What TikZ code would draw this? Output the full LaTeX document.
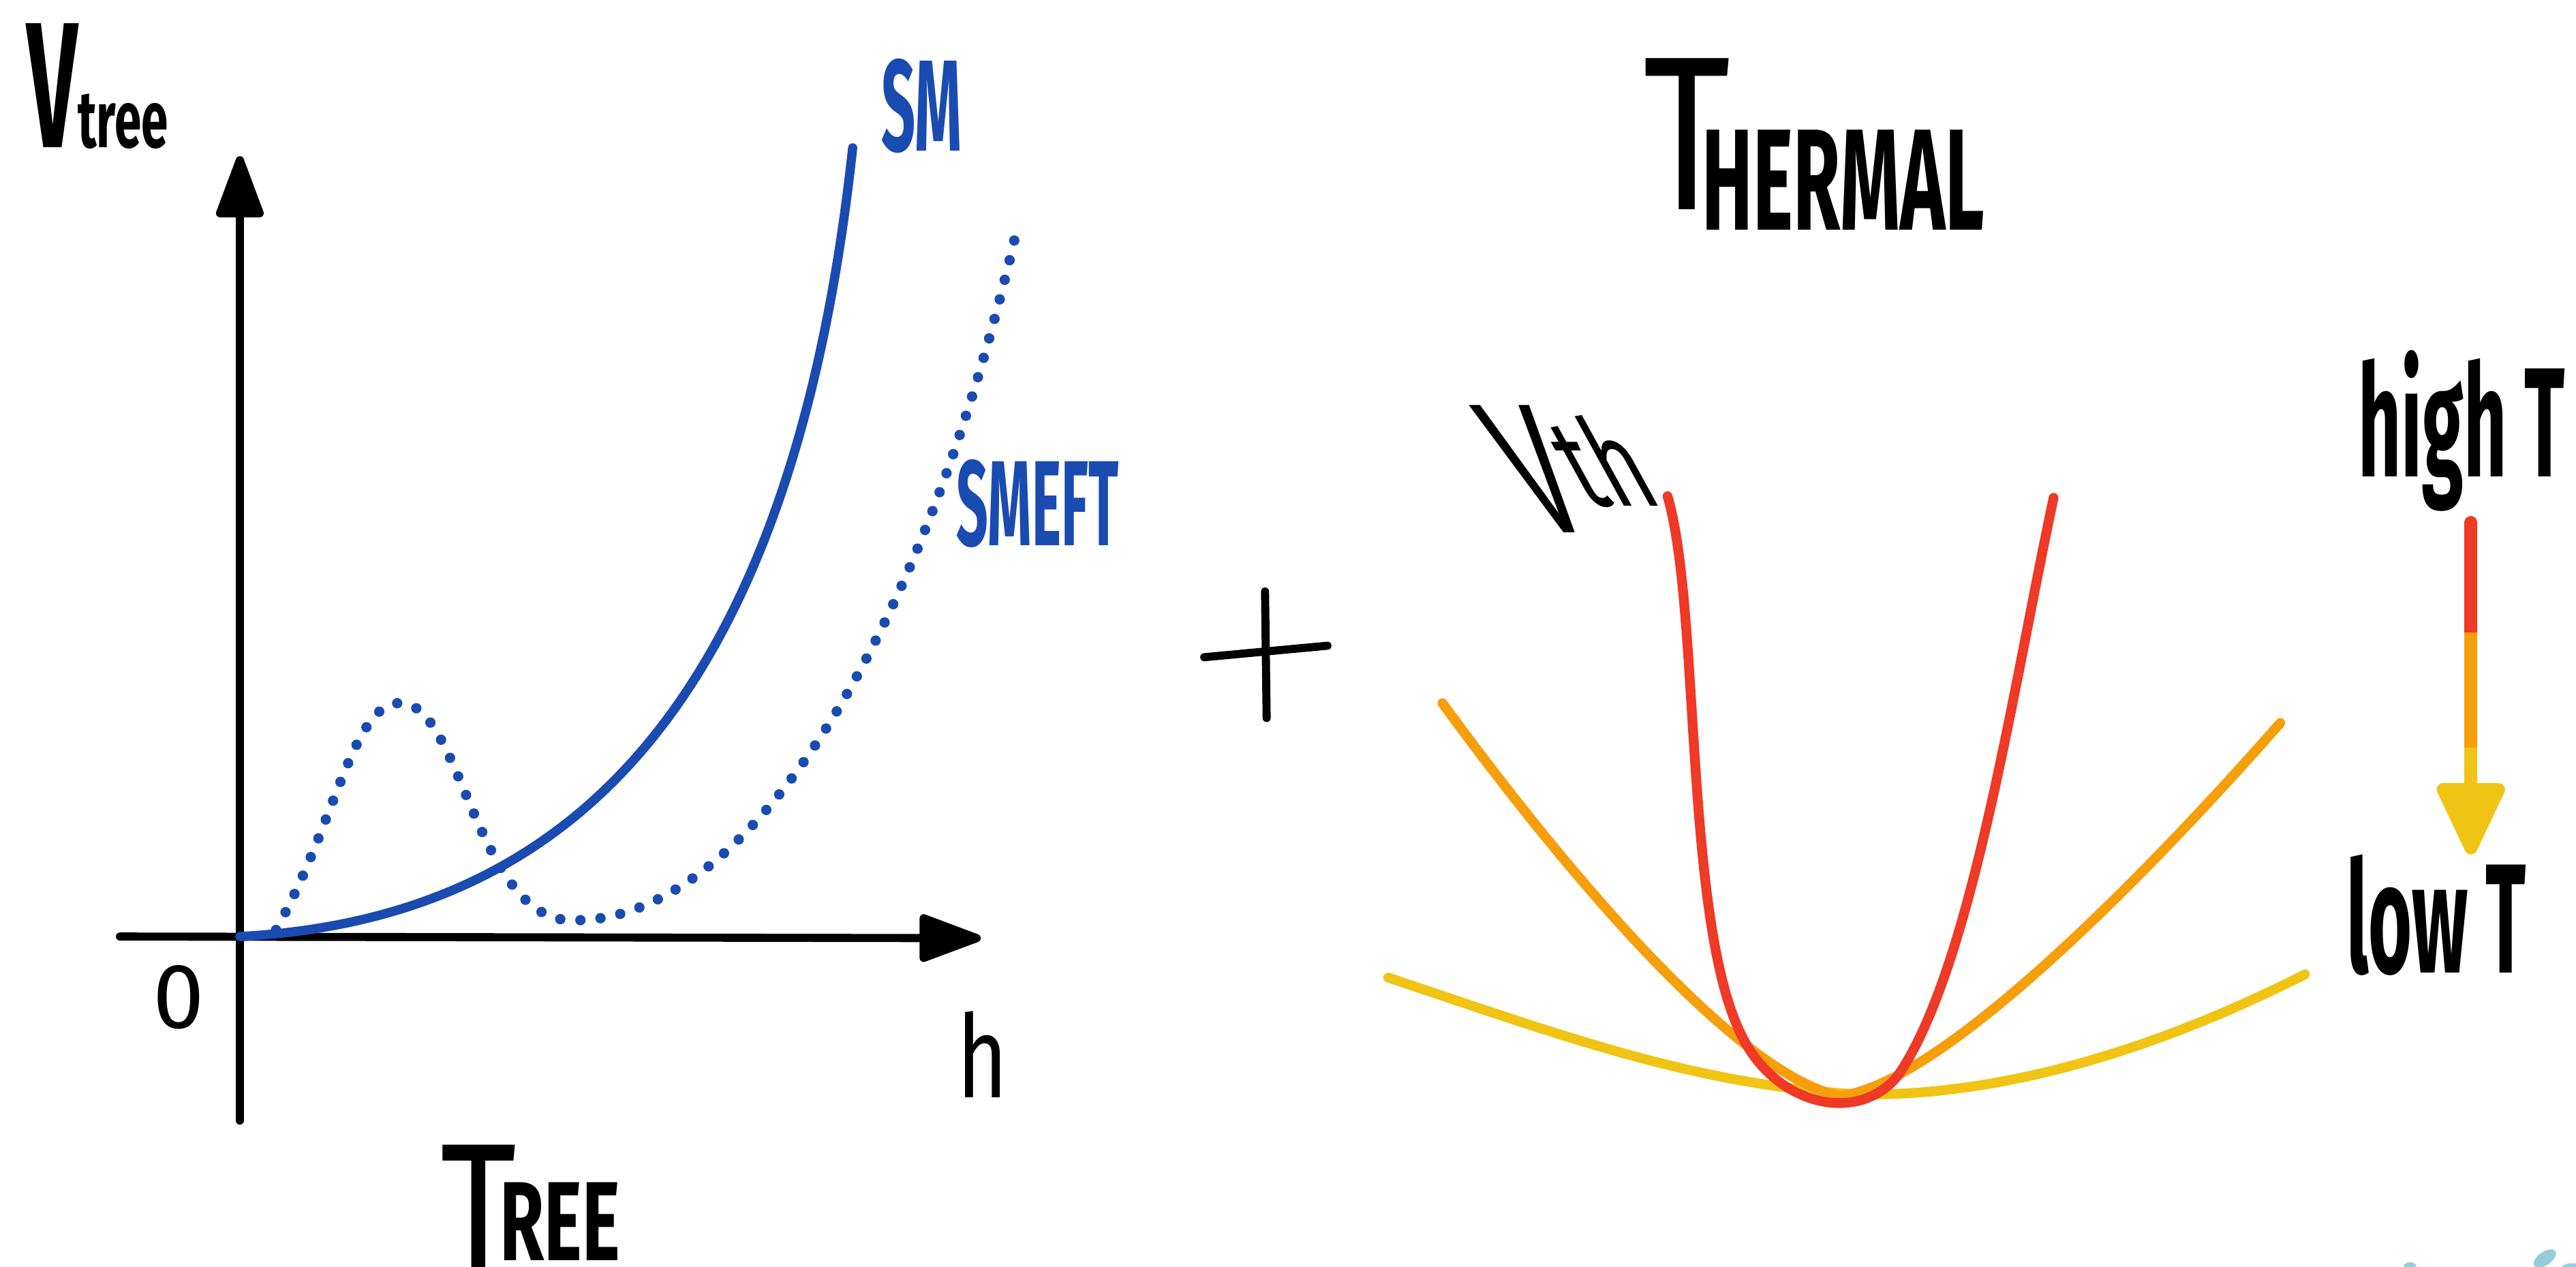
\documentclass[tikz,border=0pt]{standalone}
\usepackage{fontspec}
\setmainfont{Fira Sans}
\usepackage{graphicx}
\usetikzlibrary{arrows.meta}
\definecolor{smblue}{RGB}{26,75,176}
\definecolor{hotred}{RGB}{238,58,38}
\definecolor{warmorange}{RGB}{247,158,11}
\definecolor{coolyellow}{RGB}{240,196,20}
\definecolor{splash}{RGB}{152,204,218}
\newcommand{\squeezed}[2][0.55]{\scalebox{#1}[1]{#2}}
\newcommand{\fsz}[1]{\fontsize{#1}{#1}\selectfont}

\begin{document}
\begin{tikzpicture}[x=0.02cm, y=-0.02cm,
    axisline/.style={line width=2.8pt, line cap=round, -{Triangle[width=17pt, length=24pt, round]}},
    smline/.style={smblue, line width=3.2pt, line cap=round},
    thermo/.style={line width=3.4pt, line cap=round},
    hand/.style={inner sep=0pt, anchor=base west, font=\bfseries}]
    \useasboundingbox (0,0) rectangle (1568,771);

    % Tree level axes
    \coordinate (yfoot) at (146,682);
    \coordinate (ytip) at (146,95);
    \coordinate (xfoot) at (73,570);
    \coordinate (xtip) at (597,571);
    \draw[axisline] (yfoot) -- (ytip);
    \draw[axisline] (xfoot) -- (xtip);
    \node[hand] (vtree) at (16,90) {\fsz{62}\squeezed[0.5]{V}\fsz{28}\squeezed[0.6]{tree}};
    \node (zero) at (109,607) {\fsz{32}0};
    \node[inner sep=0pt, anchor=base] (hlab) at (598,668) {\fsz{40}\squeezed[0.75]{h}};

    % SM and SMEFT potentials
    \coordinate (orig) at (146,570);
    \coordinate (smend) at (519,90);
    \draw[smline] (orig) .. controls (330,560) and (480,450) .. (smend);
    \draw[smline, line width=3.6pt, dash pattern=on 0pt off 7pt] (168,566) .. controls (205,500) and (215,425) .. (245,428)
        .. controls (280,430) and (290,555) .. (345,560) .. controls (450,565) and (560,400) .. (620,135);
    \node[hand, smblue] (smlab) at (536,92) {\fsz{45}\squeezed[0.46]{SM}};
    \node[hand, smblue] (smeftlab) at (582,332) {\fsz{42}\squeezed[0.46]{SMEFT}};
    \node[hand] (treelab) at (268,767) {\raisebox{-7pt}{\mdseries\fsz{68}\squeezed[0.75]{T}}\kern-6pt\fsz{39}\squeezed[0.64]{REE}};

    % Plus sign
    \coordinate (plusL) at (733,400);
    \coordinate (plusR) at (808,393);
    \coordinate (plusT) at (770,360);
    \coordinate (plusB) at (771,437);
    \draw[line width=2.8pt, line cap=round] (plusL) -- (plusR);
    \draw[line width=2.8pt, line cap=round] (plusT) -- (plusB);

    % Thermal potentials
    \node[hand] (thermlab) at (1000,140) {\raisebox{7pt}{\mdseries\fsz{76}\squeezed[0.77]{T}}\kern-10pt\fsz{50}\squeezed[0.53]{HERMAL}};
    \draw[thermo, coolyellow] (845,595) .. controls (950,630) and (1030,660) .. (1130,666)
        .. controls (1230,668) and (1330,630) .. (1403,593);
    \draw[thermo, warmorange] (878,428) .. controls (960,540) and (1060,655) .. (1120,667)
        .. controls (1180,660) and (1300,540) .. (1388,440);
    \draw[thermo, hotred] (1015,302) .. controls (1035,370) and (1025,560) .. (1060,630)
        .. controls (1080,672) and (1130,685) .. (1155,655) .. controls (1200,590) and (1225,420) .. (1250,303);
    \begin{scope}[shift={(936,324)}, xslant=-0.55]
        \node[inner sep=0pt, anchor=base west, transform shape] (vth) at (0,0)
            {\fsz{64}\squeezed[0.6]{V}\raisebox{9pt}{\fsz{42}\squeezed[0.7]{th}}};
    \end{scope}

    % Cooling arrow
    \node[hand] (highT) at (1435,290) {\fsz{54}\squeezed[0.48]{high T}};
    \node[hand] (lowT) at (1428,592) {\fsz{54}\squeezed[0.48]{low T}};
    \coordinate (cooltop) at (1504,318);
    \coordinate (coolA) at (1504,385);
    \coordinate (coolB) at (1504,455);
    \coordinate (cooltip) at (1504,520);
    \draw[line width=4.5pt, hotred, line cap=round] (cooltop) -- (coolA);
    \draw[line width=4.5pt, warmorange] (coolA) -- (coolB);
    \draw[line width=4.5pt, coolyellow, -{Triangle[width=25pt, length=28pt, round]}] (coolB) -- (cooltip);

    % Splashes at the corner
    \fill[splash, rotate around={35:(1549,766)}] (1549,766) ellipse (4.5pt and 2.3pt);
    \fill[splash] (1467,771) ellipse (2.2pt and 1.6pt);
    \fill[splash] (1566,772) ellipse (4pt and 1.8pt);
\end{tikzpicture}
\end{document}
